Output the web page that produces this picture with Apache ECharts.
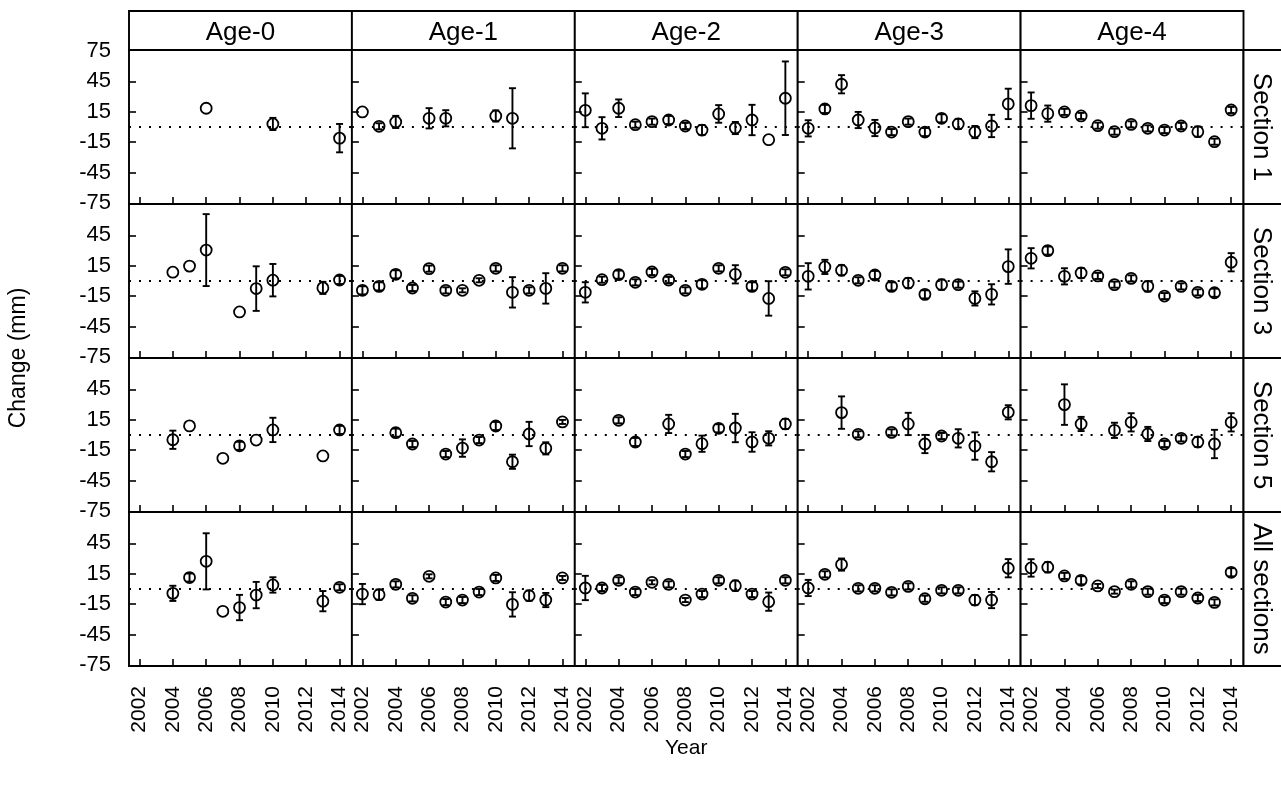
<!DOCTYPE html>
<html>
<head>
<meta charset="utf-8">
<script src="https://cdn.jsdelivr.net/npm/echarts@6/dist/echarts.min.js"></script>
<style>
  html, body { margin: 0; padding: 0; background: #fff; }
  #chart { width: 1281px; height: 789px; }
</style>
</head>
<body>
<div id="chart"></div>
<script>
// Survey years and axis ticks
const years = [2002, 2003, 2004, 2005, 2006, 2007, 2008, 2009, 2010, 2011, 2012, 2013, 2014];
const yearTicks = [2002, 2004, 2006, 2008, 2010, 2012, 2014];
const yTicks = [-45, -15, 15, 45];
const yLabelsTop = [-75, -45, -15, 15, 45, 75];
const yLabelsOther = [-75, -45, -15, 15, 45];

// Panel strip names
const ageNames = ['Age-0', 'Age-1', 'Age-2', 'Age-3', 'Age-4'];
const sectionNames = ['Section 1', 'Section 3', 'Section 5', 'All sections'];

// Mean change (mm) per year, and half-length of its error bar; null = no estimate
const age0_s1 = [null, null, null, null, 18.5, null, null, null, 3, null, null, null, -11];
const age0_s1_err = [null, null, null, null, null, null, null, null, 6, null, null, null, 14];
const age0_s3 = [null, null, 8.7, 14.7, 30.5, null, -30.5, -7.5, 0.8, null, null, -6.8, 1];
const age0_s3_err = [null, null, null, null, 35.5, null, null, 22, 16, null, null, 6, 4];
const age0_s5 = [null, null, -4.7, 9, null, -23, -10.7, -5, 5, null, null, -20.7, 5];
const age0_s5_err = [null, null, 9, null, null, null, 4, null, 12, null, null, null, 4];
const age0_all = [null, null, -4.3, 11.3, 27.3, -22, -18.3, -6, 4, null, null, -12, 1.7];
const age0_all_err = [null, null, 7.5, 4, 27.7, null, 12.5, 13, 7.6, null, null, 10, 3];

const age1_s1 = [14.9, 0.7, 5, null, 8.6, 8.6, null, null, 10.9, 8.6, null, null, null];
const age1_s1_err = [null, 3, 6, null, 10, 8, null, null, 5.5, 29.7, null, null, null];
const age1_s3 = [-9.2, -5.3, 6.6, -6.9, 12.2, -9.2, -9.2, 0.7, 12.5, -11.2, -9.2, -7.3, 12.5];
const age1_s3_err = [4, 4, 4, 3, 3, 3, 2, 2, 3, 15, 3, 15, 3];
const age1_s5 = [null, null, 2.3, -8.9, null, -18.8, -12.9, -5, 8.9, -26.4, 1, -13.2, 12.9];
const age1_s5_err = [null, null, 4, 3, null, 3, 8.6, 3, 4, 7, 12, 6, 2];
const age1_all = [-5, -5.6, 4.6, -9.2, 12.5, -12.9, -10.9, -3, 10.9, -15.2, -6.6, -10.9, 10.9];
const age1_all_err = [10, 5, 3, 3, 2, 3, 3, 3, 3, 12, 5, 7, 2];

const age2_s1 = [16.5, -1.3, 18.5, 2.3, 5.3, 6.9, 1, -3, 12.9, -1, 6.9, -12.5, 28.4];
const age2_s1_err = [16.7, 11, 8.7, 3, 3, 4, 3, 5, 8.7, 6, 15, null, 36.3];
const age2_s3 = [-11.2, 1.3, 6.3, -1.3, 8.9, 1, -9.2, -3.3, 12.5, 6.6, -5.3, -17.2, 8.6];
const age2_s3_err = [10, 3, 4, 3, 3, 3, 3, 4, 3, 9, 4, 17, 3];
const age2_s5 = [null, null, 14.5, -6.9, null, 10.9, -18.8, -8.6, 6.6, 6.9, -6.9, -3.3, 10.9];
const age2_s5_err = [null, null, 3, 4, null, 9, 3, 8, 4, 14, 9.6, 7, 5];
const age2_all = [1, 1, 8.6, -3, 6.6, 4.6, -10.9, -5, 8.6, 3.3, -5, -12.5, 8.6];
const age2_all_err = [12, 3, 3, 3, 2, 3, 2, 3, 3, 5, 3, 9, 3];

const age3_s1 = [-1.3, 17.8, 42.2, 6.9, -1, -5, 5.3, -5, 8.6, 3, -5, 1, 22.8];
const age3_s1_err = [8, 4, 9, 8, 8, 3, 3, 4, 4, 5, 6, 11, 15];
const age3_s3 = [4.6, 13.9, 10.6, 0.7, 5.9, -5.3, -2, -13.2, -3.6, -3.6, -17.2, -13.2, 14.2];
const age3_s3_err = [13, 7, 5, 3, 4, 4, 5, 4, 5, 3, 7, 10, 17];
const age3_s5 = [null, null, 22.1, 0.7, null, 2.6, 10.9, -8.9, -1, -3.3, -10.9, -26.4, 22.4];
const age3_s5_err = [null, null, 16, 3, null, 3, 11, 9, 3, 9, 13.5, 9.5, 7];
const age3_all = [1, 14.5, 24.1, 0.7, 0.7, -3.3, 2.6, -9.6, -1.3, -1.3, -10.9, -10.9, 20.5];
const age3_all_err = [8, 3, 6, 3, 3, 3, 3, 3, 3, 3, 5, 8, 9];

const age4_s1 = [21.1, 13.2, 14.9, 10.9, 1.3, -4.6, 2.6, -1.3, -3, 1, -4.6, -14.5, 16.8];
const age4_s1_err = [13, 8, 3, 3, 3, 3, 3, 3, 3, 3, 5, 3, 3];
const age4_s3 = [22.4, 30, 4.6, 7.9, 5, -3.6, 2.6, -5.3, -14.9, -5.3, -11.2, -11.6, 18.5];
const age4_s3_err = [10, 4, 8, 5, 3, 3, 3, 5, 3, 3, 3, 4, 9];
const age4_s5 = [null, null, 30, 10.9, null, 4.6, 12.5, 1, -8.9, -3.3, -6.9, -8.9, 12.5];
const age4_s5_err = [null, null, 20, 7, null, 7.5, 9, 7, 3, 3, 5, 14, 9];
const age4_all = [20.8, 21.5, 12.9, 8.6, 3, -2.6, 4.6, -2.6, -10.9, -2.6, -8.9, -13.2, 16.5];
const age4_all_err = [8.6, 5, 3, 4, 2, 2, 3, 3, 3, 3, 3, 3, 4];

// Rows = sections, columns = age classes
const meanTable = [
  [age0_s1, age1_s1, age2_s1, age3_s1, age4_s1],
  [age0_s3, age1_s3, age2_s3, age3_s3, age4_s3],
  [age0_s5, age1_s5, age2_s5, age3_s5, age4_s5],
  [age0_all, age1_all, age2_all, age3_all, age4_all]
];
const errTable = [
  [age0_s1_err, age1_s1_err, age2_s1_err, age3_s1_err, age4_s1_err],
  [age0_s3_err, age1_s3_err, age2_s3_err, age3_s3_err, age4_s3_err],
  [age0_s5_err, age1_s5_err, age2_s5_err, age3_s5_err, age4_s5_err],
  [age0_all_err, age1_all_err, age2_all_err, age3_all_err, age4_all_err]
];

const FONT = '"Liberation Sans", Arial, Helvetica, sans-serif';
const LEFT = 129, COL_W = 222.9, TOP = 50, ROW_H = 154, STRIP_H = 39;
const X_MIN = 2001.37, X_MAX = 2014.74, Y_MIN = -76, Y_MAX = 76;
const FRAME_W = 1.9;

// Vertical error bar with short caps
function renderErrorBar(params, api) {
  const x = api.value(0);
  const lo = api.coord([x, api.value(1)]);
  const hi = api.coord([x, api.value(2)]);
  const cap = 3.5;
  const style = { stroke: '#000', lineWidth: 1.9 };
  return {
    type: 'group',
    children: [
      { type: 'line', shape: { x1: hi[0], y1: hi[1], x2: lo[0], y2: lo[1] }, style },
      { type: 'line', shape: { x1: hi[0] - cap, y1: hi[1], x2: hi[0] + cap, y2: hi[1] }, style },
      { type: 'line', shape: { x1: lo[0] - cap, y1: lo[1], x2: lo[0] + cap, y2: lo[1] }, style }
    ]
  };
}

const grids = [], xAxes = [], yAxes = [], series = [], graphics = [];

sectionNames.forEach((sec, r) => {
  ageNames.forEach((age, c) => {
    const i = grids.length;
    grids.push({
      left: LEFT + c * COL_W, top: TOP + r * ROW_H, width: COL_W, height: ROW_H,
      show: true, borderColor: '#000', borderWidth: FRAME_W, backgroundColor: '#fff'
    });
    xAxes.push({
      gridIndex: i, type: 'value', min: X_MIN, max: X_MAX, position: 'bottom',
      axisLine: { show: false, onZero: false }, splitLine: { show: false },
      axisTick: { show: true, inside: true, length: 7, customValues: yearTicks, lineStyle: { color: '#000', width: 1.6 } },
      axisLabel: {
        show: r === sectionNames.length - 1, customValues: yearTicks, rotate: 90, margin: 20,
        color: '#000', fontSize: 21, fontFamily: FONT, formatter: v => String(Math.round(v))
      }
    });
    yAxes.push({
      gridIndex: i, type: 'value', min: Y_MIN, max: Y_MAX, position: 'left',
      axisLine: { show: false, onZero: false }, splitLine: { show: false },
      axisTick: { show: true, inside: true, length: 7, customValues: yTicks, lineStyle: { color: '#000', width: 1.6 } },
      axisLabel: {
        show: c === 0, customValues: r === 0 ? yLabelsTop : yLabelsOther, margin: 18,
        color: '#000', fontSize: 22, fontFamily: FONT
      }
    });

    const means = meanTable[r][c], errs = errTable[r][c];
    const points = [], bars = [];
    years.forEach((yr, k) => {
      if (means[k] === null) return;
      points.push([yr, means[k]]);
      if (errs[k] !== null) bars.push([yr, means[k] - errs[k], means[k] + errs[k]]);
    });

    series.push({
      type: 'scatter', xAxisIndex: i, yAxisIndex: i, data: points,
      symbol: 'circle', symbolSize: 11, z: 3,
      itemStyle: { color: 'rgba(255,255,255,0)', borderColor: '#000', borderWidth: 1.8, opacity: 1 },
      markLine: {
        silent: true, symbol: 'none', label: { show: false },
        lineStyle: { color: '#000', type: [2, 8], width: 2 },
        data: [{ yAxis: 0 }]
      }
    });
    series.push({
      type: 'custom', xAxisIndex: i, yAxisIndex: i, data: bars, z: 4,
      renderItem: renderErrorBar
    });
  });
});

// Strip labels across the top (age class)
ageNames.forEach((age, c) => {
  const x = LEFT + c * COL_W;
  graphics.push({
    type: 'rect', shape: { x: x, y: TOP - STRIP_H, width: COL_W, height: STRIP_H },
    style: { fill: '#fff', stroke: '#000', lineWidth: FRAME_W }, z: 10
  });
  graphics.push({
    type: 'text', x: x + COL_W / 2, y: TOP - STRIP_H / 2 + 2, z: 11,
    style: { text: age, font: '26px ' + FONT, fill: '#000', textAlign: 'center', textVerticalAlign: 'middle' }
  });
});

// Strip labels down the right side (section)
const RIGHT = LEFT + ageNames.length * COL_W;
sectionNames.forEach((sec, r) => {
  const y = TOP + r * ROW_H;
  graphics.push({
    type: 'rect', shape: { x: RIGHT, y: y, width: STRIP_H, height: ROW_H },
    style: { fill: '#fff', stroke: '#000', lineWidth: FRAME_W }, z: 10
  });
  graphics.push({
    type: 'text', x: RIGHT + STRIP_H / 2 - 2, y: y + ROW_H / 2, rotation: -Math.PI / 2, z: 11,
    style: { text: sec, font: '26px ' + FONT, fill: '#000', textAlign: 'center', textVerticalAlign: 'middle' }
  });
});

// Axis titles
graphics.push({
  type: 'text', x: 19, y: TOP + 2 * ROW_H, rotation: Math.PI / 2, z: 11,
  style: { text: 'Change (mm)', font: '23px ' + FONT, fill: '#000', textAlign: 'center', textVerticalAlign: 'middle' }
});
graphics.push({
  type: 'text', x: LEFT + 2.5 * COL_W, y: 748, z: 11,
  style: { text: 'Year', font: '21px ' + FONT, fill: '#000', textAlign: 'center', textVerticalAlign: 'middle' }
});

const chart = echarts.init(document.getElementById('chart'), null, { renderer: 'canvas' });
chart.setOption({
  animation: false,
  backgroundColor: '#fff',
  grid: grids,
  xAxis: xAxes,
  yAxis: yAxes,
  series: series,
  graphic: graphics
});
</script>
</body>
</html>
